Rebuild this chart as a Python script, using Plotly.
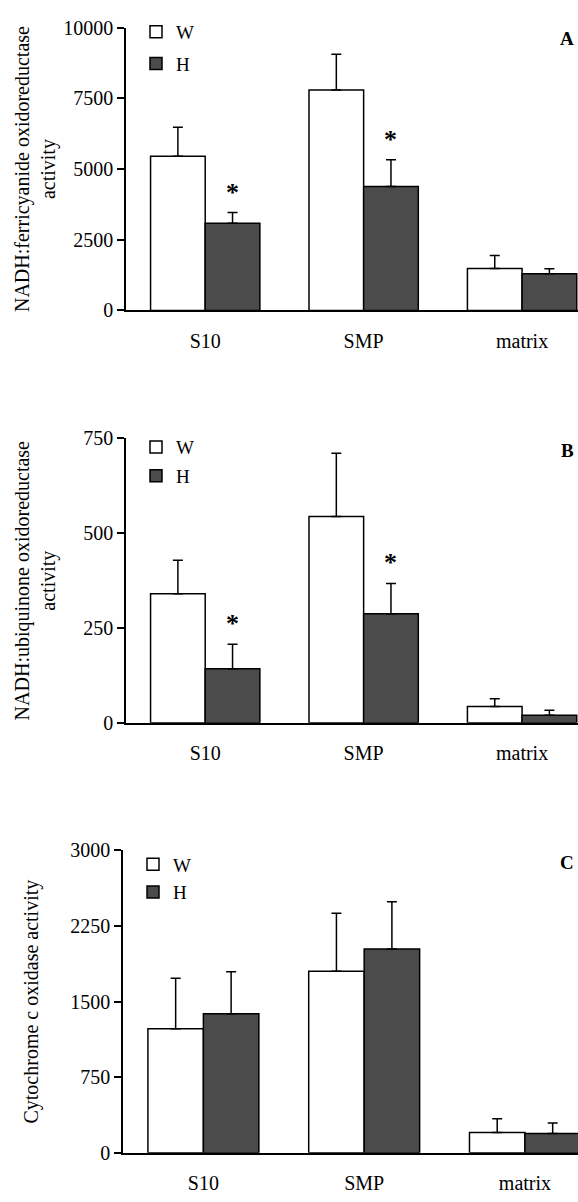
import plotly.graph_objects as go

categories = ["S10", "SMP", "matrix"]
series_names = ["W", "H"]

# Panel A: NADH:ferricyanide oxidoreductase
A_W = [5450, 7800, 1480]
A_W_err = [1030, 1260, 460]
A_H = [3080, 4380, 1300]
A_H_err = [380, 950, 170]
A_H_sig = [True, True, False]

# Panel B: NADH:ubiquinone oxidoreductase
B_W = [340, 543, 43]
B_W_err = [88, 167, 20]
B_H = [142, 287, 20]
B_H_err = [65, 80, 13]
B_H_sig = [True, True, False]

# Panel C: Cytochrome c oxidase
C_W = [1230, 1800, 200]
C_W_err = [500, 575, 136]
C_H = [1380, 2020, 190]
C_H_err = [415, 470, 104]
C_H_sig = [False, False, False]

A_ticks = [0, 2500, 5000, 7500, 10000]
B_ticks = [0, 250, 500, 750]
C_ticks = [0, 750, 1500, 2250, 3000]

titles = ["NADH:ferricyanide oxidoreductase<br>activity",
          "NADH:ubiquinone oxidoreductase<br>activity",
          "Cytochrome c oxidase activity"]
panel_letters = ["A", "B", "C"]

FONT = "Liberation Serif"
W_FILL = "#ffffff"
H_FILL = "#4b4b4b"
H = 1202.0
Wd = 578.0

panels = [
    dict(W=A_W, We=A_W_err, H=A_H, He=A_H_err, sig=A_H_sig, ticks=A_ticks,
         top=17, bottom=305, left=126, xmax=2.353, legtop=2, letter_y=28, gap=4,
         title_x=35),
    dict(W=B_W, We=B_W_err, H=B_H, He=B_H_err, sig=B_H_sig, ticks=B_ticks,
         top=435, bottom=725, left=126, xmax=2.353, legtop=425, letter_y=448, gap=1,
         title_x=35),
    dict(W=C_W, We=C_W_err, H=C_H, He=C_H_err, sig=C_H_sig, ticks=C_ticks,
         top=855, bottom=1163, left=123, xmax=2.33, legtop=850, letter_y=867, gap=0,
         title_x=32),
]

fig = go.Figure()
annotations = []
layout_axes = {}

for i, p in enumerate(panels):
    n = "" if i == 0 else str(i + 1)
    xa, ya = "x" + n, "y" + n
    leg = "legend" + n
    for name, vals, errs, fill in [("W", p["W"], p["We"], W_FILL), ("H", p["H"], p["He"], H_FILL)]:
        fig.add_trace(go.Bar(
            x=categories, y=vals, name=name, xaxis=xa, yaxis=ya,
            marker=dict(color=fill, line=dict(color="black", width=1.5)),
            error_y=dict(type="data", array=errs, arrayminus=[0] * len(errs),
                         symmetric=False, color="black", thickness=1.5, width=5),
            legend=leg, legendgroup=name + n, showlegend=True,
        ))
    ymax = p["ticks"][-1]
    layout_axes["xaxis" + n] = dict(
        domain=[p["left"] / Wd, 1.0], range=[-0.5, p["xmax"]], anchor=ya,
        showline=True, linecolor="black", linewidth=1.5, ticks="",
        showgrid=False, zeroline=False, tickfont=dict(family=FONT, size=20, color="black"),
        ticklabelstandoff=12, fixedrange=True,
    )
    layout_axes["yaxis" + n] = dict(
        domain=[1 - p["bottom"] / H, 1 - p["top"] / H], range=[0, ymax], anchor=xa,
        showline=True, linecolor="black", linewidth=1.5, ticks="outside", ticklen=7,
        tickwidth=1.5, tickcolor="black", tickvals=p["ticks"],
        ticktext=[str(t) for t in p["ticks"]],
        showgrid=False, zeroline=False, tickfont=dict(family=FONT, size=20, color="black"),
    )
    layout_axes[leg] = dict(
        x=(p["left"] + 10) / Wd, y=1 - p["legtop"] / H, xanchor="left", yanchor="top",
        font=dict(family=FONT, size=19, color="black"), bgcolor="rgba(0,0,0,0)",
        tracegroupgap=p["gap"], itemwidth=30,
    )
    # significance asterisks above H error bars
    for j, c in enumerate(categories):
        if p["sig"][j]:
            annotations.append(dict(
                x=c, y=p["H"][j] + p["He"][j], xref=xa, yref=ya, text="<b>*</b>",
                showarrow=False, xshift=27, yshift=4, yanchor="bottom",
                font=dict(family=FONT, size=26, color="black"),
            ))
    # panel letter
    annotations.append(dict(
        x=567 / Wd, y=1 - p["letter_y"] / H, xref="paper", yref="paper",
        text="<b>" + panel_letters[i] + "</b>", showarrow=False,
        xanchor="center", yanchor="middle",
        font=dict(family=FONT, size=19, color="black"),
    ))
    # y-axis title
    annotations.append(dict(
        x=p["title_x"] / Wd, y=1 - (p["top"] + p["bottom"]) / 2 / H,
        xref="paper", yref="paper", text=titles[i], textangle=-90,
        showarrow=False, xanchor="center", yanchor="middle",
        font=dict(family=FONT, size=20, color="black"),
    ))

fig.update_layout(
    width=578, height=1202,
    margin=dict(l=0, r=0, t=0, b=0),
    paper_bgcolor="white", plot_bgcolor="white",
    barmode="group", bargap=0.31, bargroupgap=0,
    annotations=annotations,
    **layout_axes,
)

fig.write_html("out.html", config={"displayModeBar": False},
               post_script="document.body.style.margin='0px';document.body.style.overflow='hidden';")
